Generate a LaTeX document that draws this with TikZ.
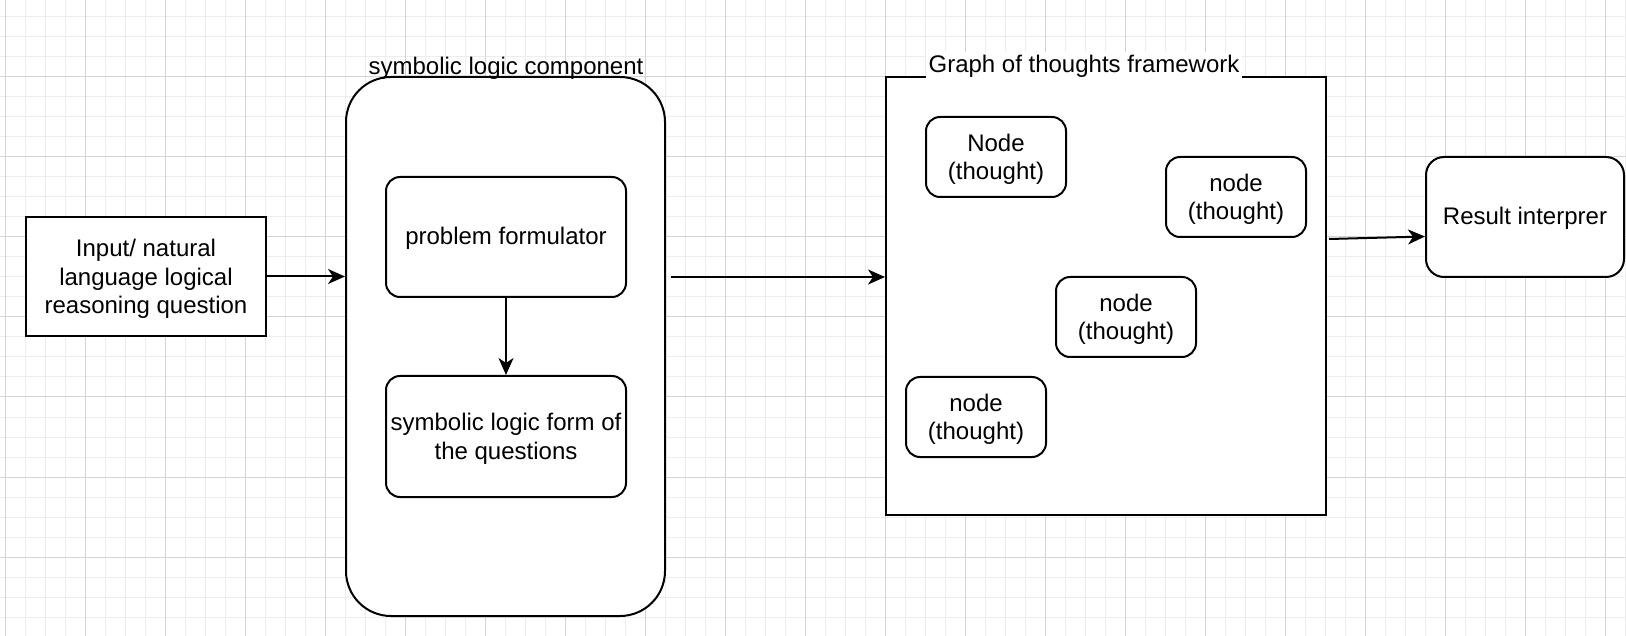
\documentclass[tikz,border=0pt]{standalone}
\usepackage{fontspec}
\setmainfont{Liberation Sans}
\usetikzlibrary{arrows.meta}
\tikzset{
  box/.style={draw, line width=2pt, inner sep=0pt, fill=white},
  rbox/.style={box, rounded corners=14pt},
  thought/.style={rbox, minimum width=140pt, minimum height=80pt},
  txt/.style={align=center, inner sep=0pt, font=\fontsize{24}{28.5}\selectfont},
  arr/.style={line width=2pt, -{Stealth[length=17pt, width=15pt, inset=5pt]}},
  minorgrid/.style={draw=black!7, line width=1pt},
  majorgrid/.style={draw=black!17, line width=1pt},
  title/.style={font=\fontsize{24}{28.5}\selectfont, anchor=base, inner sep=0pt}
}
\begin{document}
\begin{tikzpicture}[x=1pt, y=-1pt]
\useasboundingbox (0,0) rectangle (1626,636);
\fill[white] (0,0) rectangle (1626,636);
% grid
\foreach \i in {0,...,81} { \draw[minorgrid] ({5+20*\i},0) -- ({5+20*\i},636); }
\foreach \i in {0,...,31} { \draw[minorgrid] (0,{17+20*\i}) -- (1626,{17+20*\i}); }
\foreach \i in {0,...,20} { \draw[majorgrid] ({5+80*\i},0) -- ({5+80*\i},636); }
\foreach \i in {0,...,7} { \draw[majorgrid] (0,{-3+80*\i}) -- (1626,{-3+80*\i}); }

% input
\node[box, minimum width=240pt, minimum height=119pt] (inp) at (146,276.5) {};
\node[txt] (inpt) at ([yshift=-2.5pt]inp.center) {Input/ natural\\language logical\\reasoning question};

% symbolic logic component
\node[box, rounded corners=45pt, minimum width=319pt, minimum height=539pt] (sym) at (505.5,346.5) {};
\node[title] (symt) at (506,75) {symbolic logic component};
\node[rbox, minimum width=240pt, minimum height=120pt] (pf) at (506,237) {};
\node[txt] (pft) at ([yshift=-1.5pt]pf.center) {problem formulator};
\node[rbox, minimum width=240pt, minimum height=121pt] (slf) at (506,436.5) {};
\node[txt] (slft) at ([yshift=-2.5pt]slf.center) {symbolic logic form of\\the questions};

% graph of thoughts
\node[box, minimum width=440pt, minimum height=438pt] (got) at (1106,296) {};
\node[title, fill=white, inner xsep=3pt, inner ysep=4pt] (gott) at (1084,73) {Graph of thoughts framework};
\node[thought] (n1) at (996,157) {};
\node[txt] (n1t) at ([yshift=-2.5pt]n1.center) {Node\\(thought)};
\node[thought] (n2) at (1236,197) {};
\node[txt] (n2t) at ([yshift=-2.5pt]n2.center) {node\\(thought)};
\node[thought] (n3) at (1126,317) {};
\node[txt] (n3t) at ([yshift=-2.5pt]n3.center) {node\\(thought)};
\node[thought] (n4) at (976,417) {};
\node[txt] (n4t) at ([yshift=-2.5pt]n4.center) {node\\(thought)};

% result
\node[box, rounded corners=18pt, minimum width=198pt, minimum height=120pt] (res) at (1525,217) {};
\node[txt] (rest) at ([yshift=-1.5pt]res.center) {Result interprer};

% connectors
\draw[arr] (inp.east) -- (sym.west |- inp.east);
\draw[arr] (pf.south) -- (slf.north);
\coordinate (s1) at (671,277);
\draw[arr] (s1) -- (got.west |- s1);
\coordinate (g1) at (1329,239);
\coordinate (r1) at (1425,236.5);
\draw[arr] (g1) -- (r1);
\end{tikzpicture}
\end{document}
